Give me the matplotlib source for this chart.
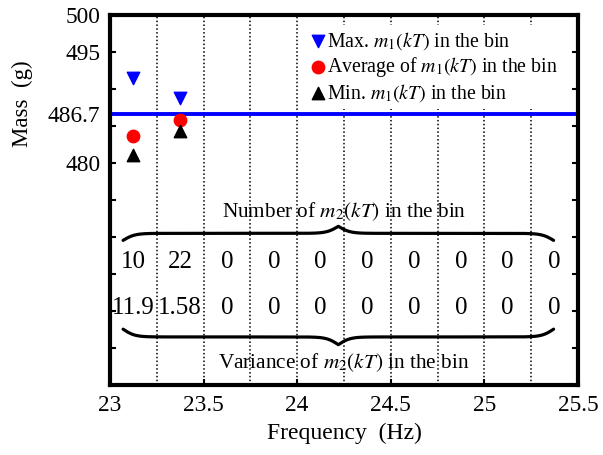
import matplotlib
matplotlib.use('Agg')
import matplotlib.pyplot as plt
import numpy as np

plt.rcParams['font.family'] = 'Liberation Serif'
plt.rcParams['mathtext.fontset'] = 'stix'

# frequency bins (Hz)
bin_edges = [23.25, 23.5, 23.75, 24.0, 24.25, 24.5, 24.75, 25.0, 25.25]
bin_centers = [23.125, 23.375, 23.625, 23.875, 24.125, 24.375, 24.625, 24.875, 25.125, 25.375]

# m1(kT) statistics for the occupied bins
freq_m1 = [23.125, 23.375]
max_m1 = [491.5, 488.8]
avg_m1 = [483.6, 485.8]
min_m1 = [481.1, 484.3]

# m2(kT) per bin
count_m2 = [10, 22, 0, 0, 0, 0, 0, 0, 0, 0]
var_m2 = ['11.9', '1.58', '0', '0', '0', '0', '0', '0', '0', '0']

ref_mass = 486.7


def draw_brace(ax, x0, x1, y, h, beta=32, lw=2.3):
    # curly brace between x0 and x1; h > 0 points the tip up, h < 0 down
    n = 401
    xs = np.linspace(x0, x1, n)
    half = xs[:n // 2 + 1] - x0
    yh = 1 / (1 + np.exp(-beta * (half - half[0]))) + 1 / (1 + np.exp(-beta * (half - half[-1])))
    ys = np.concatenate((yh, yh[-2::-1]))
    ax.plot(xs, y + (ys - 1) * h, color='black', lw=lw, clip_on=False, zorder=3,
            solid_capstyle='round')


fig = plt.figure(figsize=(6.03, 4.55), dpi=100)
ax = fig.add_axes([0.1824, 0.1538, 0.776, 0.813])

for e in bin_edges:
    ax.axvline(e, color='black', ls=(0, (1, 1.5)), lw=1.1, zorder=1)

ax.axhline(ref_mass, color='blue', lw=2.8, zorder=2)

ms = 80
ax.scatter(freq_m1, max_m1, marker='v', s=ms, color='blue', zorder=4, label=r'Max. $m_1(kT)$ in the bin')
ax.scatter(freq_m1, avg_m1, marker='o', s=ms, color='red', zorder=4, label=r'Average of $m_1(kT)$ in the bin')
ax.scatter(freq_m1, min_m1, marker='^', s=ms, color='black', zorder=4, label=r'Min. $m_1(kT)$ in the bin')

# counts and variances of m2(kT)
for xc, c, v in zip(bin_centers, count_m2, var_m2):
    ax.text(xc, 466.6, str(c), ha='center', va='center', fontsize=18, zorder=5)
    ax.text(xc, 460.4, v, ha='center', va='center', fontsize=18, zorder=5)

ax.text(24.25, 473.4, r'Number of $m_2(kT)$ in the bin', ha='center', va='center', fontsize=15.3)
ax.text(24.25, 453.0, r'Variance of $m_2(kT)$ in the bin', ha='center', va='center', fontsize=15.3)
draw_brace(ax, 23.07, 25.37, 470.5, 1.9)
draw_brace(ax, 23.07, 25.37, 456.5, -2.1)

ax.set_xlim(23, 25.5)
ax.set_ylim(450, 500)
ax.set_xticks([23, 23.5, 24, 24.5, 25, 25.5])
ax.set_xticklabels(['23', '23.5', '24', '24.5', '25', '25.5'])
ax.set_yticks([480, ref_mass, 495, 500])
ax.set_yticklabels(['480', '486.7', '495', '500'])
ax.set_yticks(np.arange(450, 501, 5), minor=True)
ax.tick_params(axis='both', which='major', direction='in', labelsize=16.8, length=4, width=1.5, pad=7)
ax.tick_params(axis='y', which='both', direction='in', left=True, right=True, length=4, width=1.5)
ax.tick_params(axis='x', which='both', top=False)

for s in ax.spines.values():
    s.set_linewidth(3.0)

ax.set_xlabel('Frequency  (Hz)', fontsize=17, labelpad=5)
ax.set_ylabel('Mass  (g)', fontsize=16.5)
ax.yaxis.set_label_coords(-0.165, 0.76)

leg = ax.legend(loc='upper left', bbox_to_anchor=(0.4, 1.0), fontsize=14.3, frameon=True,
                facecolor='white', edgecolor='none', framealpha=1, handlelength=0.6,
                handletextpad=0.15, labelspacing=0.15, borderpad=0.25, scatterpoints=1)
leg.set_zorder(6)

fig.savefig('out.png', dpi=100)
